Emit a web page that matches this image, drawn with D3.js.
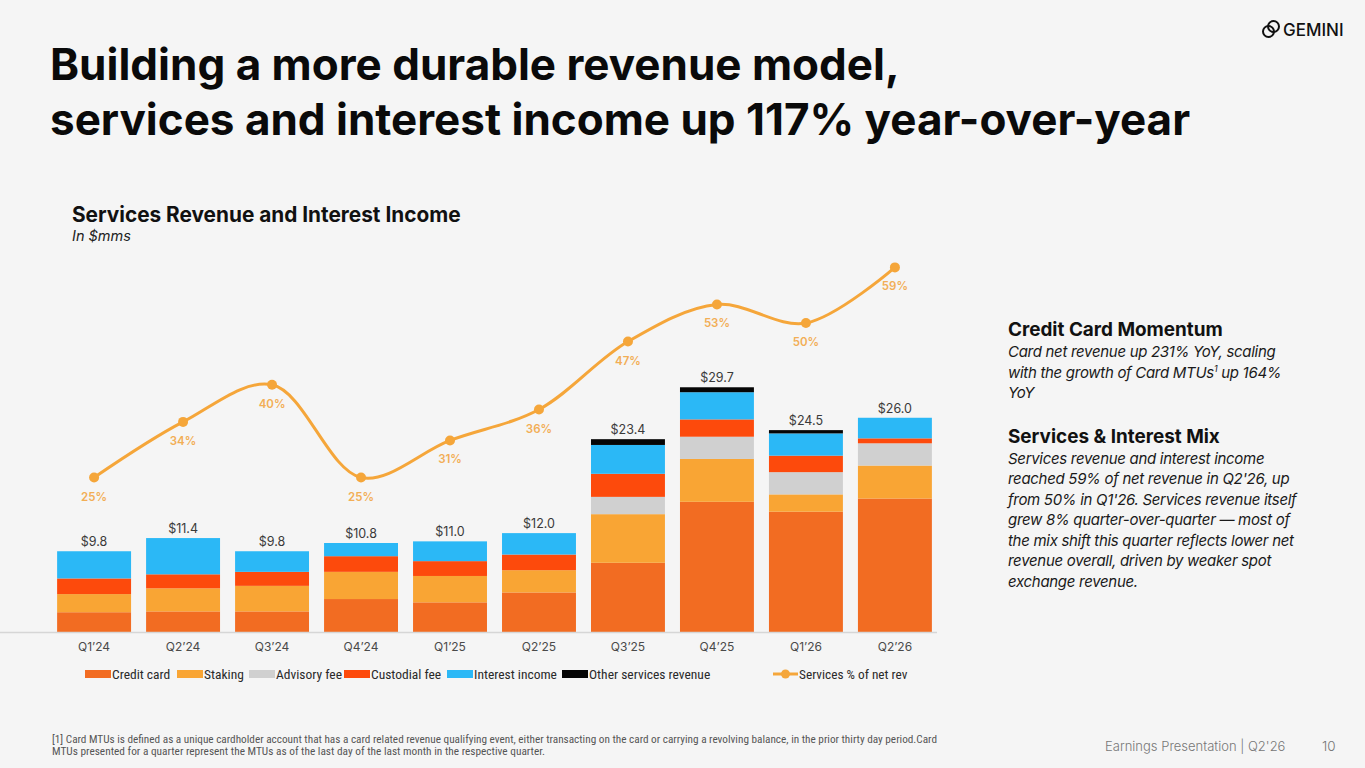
<!DOCTYPE html>
<html>
<head>
<meta charset="utf-8">
<script src="https://cdn.jsdelivr.net/npm/d3@7"></script>
<style>
  html, body { margin: 0; padding: 0; background: #f5f5f5; }
  svg { display: block; }
  .sans { font-family: Inter, "Noto Sans", sans-serif; }
  .narrow { font-family: "Liberation Sans Narrow", "Arial Narrow", "Roboto Condensed", sans-serif; }
</style>
</head>
<body>
<svg id="slide" width="1365" height="768"></svg>
<script>
"use strict";

// ---- data ----
const quarters = ["Q1’24", "Q2’24", "Q3’24", "Q4’24", "Q1’25", "Q2’25", "Q3’25", "Q4’25", "Q1’26", "Q2’26"];
const creditCard = [2.4, 2.5, 2.5, 4.0, 3.6, 4.8, 8.4, 15.8, 14.6, 16.2];
const staking = [2.2, 2.8, 3.1, 3.3, 3.2, 2.7, 5.9, 5.2, 2.1, 4.0];
const advisoryFee = [0, 0, 0, 0, 0, 0, 2.1, 2.7, 2.7, 2.7];
const custodialFee = [1.9, 1.7, 1.7, 1.9, 1.8, 1.9, 2.8, 2.1, 2.0, 0.6];
const interestIncome = [3.3, 4.4, 2.5, 1.6, 2.4, 2.6, 3.5, 3.3, 2.7, 2.5];
const otherServices = [0, 0, 0, 0, 0, 0, 0.7, 0.6, 0.4, 0];
const totals = [9.8, 11.4, 9.8, 10.8, 11.0, 12.0, 23.4, 29.7, 24.5, 26.0];
const servicesPct = [0.25, 0.34, 0.40, 0.25, 0.31, 0.36, 0.47, 0.53, 0.50, 0.59];

const seriesKeys = ["Credit card", "Staking", "Advisory fee", "Custodial fee", "Interest income", "Other services revenue"];
const seriesValues = [creditCard, staking, advisoryFee, custodialFee, interestIncome, otherServices];
const lineName = "Services % of net rev";

const colors = {
  "Credit card": "#f26c22",
  "Staking": "#f9a534",
  "Advisory fee": "#d0d0d0",
  "Custodial fee": "#fd4a0c",
  "Interest income": "#2bb8f6",
  "Other services revenue": "#050505",
};
const lineColor = "#f5a63a";
const lineLabelColor = "#f2ae55";

const svg = d3.select("#slide");

svg.append("rect").attr("width", 1365).attr("height", 768).attr("fill", "#f5f5f5");

// ---- headings ----
const title = svg.append("text")
  .attr("class", "sans")
  .attr("x", 50)
  .attr("font-size", "44px")
  .attr("font-weight", 700)
  .attr("fill", "#0a0a0a");
title.append("tspan").attr("x", 50).attr("y", 80).text("Building a more durable revenue model,");
title.append("tspan").attr("x", 50).attr("y", 135).text("services and interest income up 117% year-over-year");

svg.append("text")
  .attr("class", "sans")
  .attr("x", 72)
  .attr("y", 222)
  .attr("font-size", "20.8px")
  .attr("font-weight", 700)
  .attr("fill", "#111")
  .text("Services Revenue and Interest Income");

svg.append("text")
  .attr("class", "sans")
  .attr("x", 72)
  .attr("y", 241)
  .attr("font-size", "14.5px")
  .attr("font-style", "italic")
  .attr("fill", "#222")
  .text("In $mms");

// ---- scales ----
const x = d3.scaleBand()
  .domain(quarters)
  .range([50, 939])
  .paddingInner(0.169)
  .paddingOuter(0.08);

const y = d3.scaleLinear().domain([0, 75]).range([632, 14]);
const yPct = d3.scaleLinear().domain([0, 1]).range([632, 14]);

// stacked table built from the named arrays
const table = quarters.map((q, i) => {
  const row = { quarter: q };
  seriesKeys.forEach((k, j) => (row[k] = seriesValues[j][i]));
  return row;
});
const stacked = d3.stack().keys(seriesKeys)(table);

const chart = svg.append("g");

chart.selectAll("g.layer")
  .data(stacked)
  .join("g")
  .attr("class", "layer")
  .attr("fill", (d) => colors[d.key])
  .selectAll("rect")
  .data((d) => d.filter((s) => s[1] - s[0] > 0))
  .join("rect")
  .attr("x", (d) => x(d.data.quarter))
  .attr("width", x.bandwidth())
  .attr("y", (d) => y(d[1]))
  .attr("height", (d) => y(d[0]) - y(d[1]));

// x axis
const xAxis = d3.axisBottom(x).tickSize(0).tickPadding(10);
const xGroup = chart.append("g")
  .attr("transform", `translate(0, ${y(0)})`)
  .call(xAxis);
xGroup.select(".domain")
  .attr("stroke", "#d6d6d6")
  .attr("stroke-width", 1.5)
  .attr("d", "M0,0.5H937");
xGroup.selectAll(".tick text")
  .attr("class", "sans")
  .attr("font-size", "12px")
  .attr("fill", "#4a4a4a");

// total labels
chart.selectAll("text.total")
  .data(quarters)
  .join("text")
  .attr("class", "total sans")
  .attr("x", (q) => x(q) + x.bandwidth() / 2)
  .attr("y", (q, i) => y(totals[i]) - 5)
  .attr("text-anchor", "middle")
  .attr("font-size", "12.5px")
  .attr("fill", "#3a3a3a")
  .text((q, i) => "$" + totals[i].toFixed(1));

// services % line
const cx = (q) => x(q) + x.bandwidth() / 2;
const pctLine = d3.line()
  .x((d, i) => cx(quarters[i]))
  .y((d) => yPct(d))
  .curve(d3.curveCatmullRom.alpha(0.5));

chart.append("path")
  .datum(servicesPct)
  .attr("fill", "none")
  .attr("stroke", lineColor)
  .attr("stroke-width", 3)
  .attr("stroke-linejoin", "round")
  .attr("d", pctLine);

chart.selectAll("circle.pt")
  .data(servicesPct)
  .join("circle")
  .attr("class", "pt")
  .attr("cx", (d, i) => cx(quarters[i]))
  .attr("cy", (d) => yPct(d))
  .attr("r", 5)
  .attr("fill", lineColor);

chart.selectAll("text.pct")
  .data(servicesPct)
  .join("text")
  .attr("class", "pct sans")
  .attr("x", (d, i) => cx(quarters[i]))
  .attr("y", (d) => yPct(d) + 23)
  .attr("text-anchor", "middle")
  .attr("font-size", "11.5px")
  .attr("font-weight", 600)
  .attr("fill", lineLabelColor)
  .text((d) => d3.format(".0%")(d));

// ---- legend ----
const legendX = [85, 177, 249, 344, 447, 562];
const legend = svg.append("g").attr("transform", "translate(0, 674)");
seriesKeys.forEach((k, i) => {
  legend.append("rect")
    .attr("x", legendX[i])
    .attr("y", -4)
    .attr("width", 26)
    .attr("height", 8)
    .attr("fill", colors[k]);
  legend.append("text")
    .attr("class", "narrow")
    .attr("x", legendX[i] + 27)
    .attr("y", 4.7)
    .attr("font-size", "13.5px")
    .attr("fill", "#2a2a2a")
    .text(k);
});
legend.append("line")
  .attr("x1", 773).attr("x2", 798)
  .attr("stroke", lineColor).attr("stroke-width", 3);
legend.append("circle").attr("cx", 785.5).attr("r", 4.5).attr("fill", lineColor);
legend.append("text")
  .attr("class", "narrow")
  .attr("x", 799)
  .attr("y", 4.7)
  .attr("font-size", "13.3px")
  .attr("fill", "#2a2a2a")
  .text(lineName);

// ---- commentary ----
const side = svg.append("g").attr("class", "sans");
function heading(text, yy) {
  side.append("text")
    .attr("x", 1008).attr("y", yy)
    .attr("font-size", "18.9px").attr("font-weight", 700).attr("fill", "#111")
    .text(text);
}
function body(lines, y0) {
  lines.forEach((l, i) => {
    const t = side.append("text")
      .attr("x", 1008).attr("y", y0 + i * 20.5)
      .attr("font-size", "15px").attr("font-style", "italic")
      .attr("letter-spacing", "-0.3px").attr("fill", "#1a1a1a");
    if (Array.isArray(l)) {
      t.append("tspan").text(l[0]);
      t.append("tspan").attr("font-size", "9px").attr("dy", "-6").text(l[1]);
      t.append("tspan").attr("dy", "6").text(l[2]);
    } else {
      t.text(l);
    }
  });
}
heading("Credit Card Momentum", 336);
body([
  "Card net revenue up 231% YoY, scaling",
  ["with the growth of Card MTUs", "1", " up 164%"],
  "YoY",
], 357);
heading("Services & Interest Mix", 443);
body([
  "Services revenue and interest income",
  "reached 59% of net revenue in Q2'26, up",
  "from 50% in Q1'26. Services revenue itself",
  "grew 8% quarter-over-quarter — most of",
  "the mix shift this quarter reflects lower net",
  "revenue overall, driven by weaker spot",
  "exchange revenue.",
], 463.5);

// ---- footer ----
svg.append("text")
  .attr("class", "narrow")
  .attr("x", 52).attr("y", 743)
  .attr("font-size", "11px").attr("fill", "#555")
  .attr("textLength", 885).attr("lengthAdjust", "spacingAndGlyphs")
  .text("[1] Card MTUs is defined as a unique cardholder account that has a card related revenue qualifying event,  either transacting on the card or carrying a revolving balance, in the prior thirty day period.Card");
svg.append("text")
  .attr("class", "narrow")
  .attr("x", 52).attr("y", 755)
  .attr("font-size", "11px").attr("fill", "#555")
  .attr("textLength", 493).attr("lengthAdjust", "spacingAndGlyphs")
  .text("MTUs presented for a quarter represent the MTUs as of the last day of the last month in the respective quarter.");

svg.append("text")
  .attr("class", "sans")
  .attr("x", 1105).attr("y", 751)
  .attr("font-size", "13px").attr("font-weight", 300).attr("fill", "#777")
  .text("Earnings Presentation | Q2'26");
svg.append("text")
  .attr("class", "sans")
  .attr("x", 1322).attr("y", 751)
  .attr("font-size", "13.5px").attr("font-weight", 300).attr("fill", "#777")
  .text("10");

// ---- logo ----
const logo = svg.append("g").attr("transform", "translate(1271, 29)");
logo.append("circle").attr("cx", -2.5).attr("cy", 2.5).attr("r", 5.5)
  .attr("fill", "none").attr("stroke", "#111").attr("stroke-width", 2);
logo.append("circle").attr("cx", 2.5).attr("cy", -2.5).attr("r", 5.5)
  .attr("fill", "none").attr("stroke", "#111").attr("stroke-width", 2);
svg.append("text")
  .attr("class", "sans")
  .attr("x", 1283).attr("y", 35.5)
  .attr("font-size", "17px").attr("font-weight", 500).attr("fill", "#111")
  .attr("letter-spacing", "0px")
  .text("GEMINI");
</script>
</body>
</html>
